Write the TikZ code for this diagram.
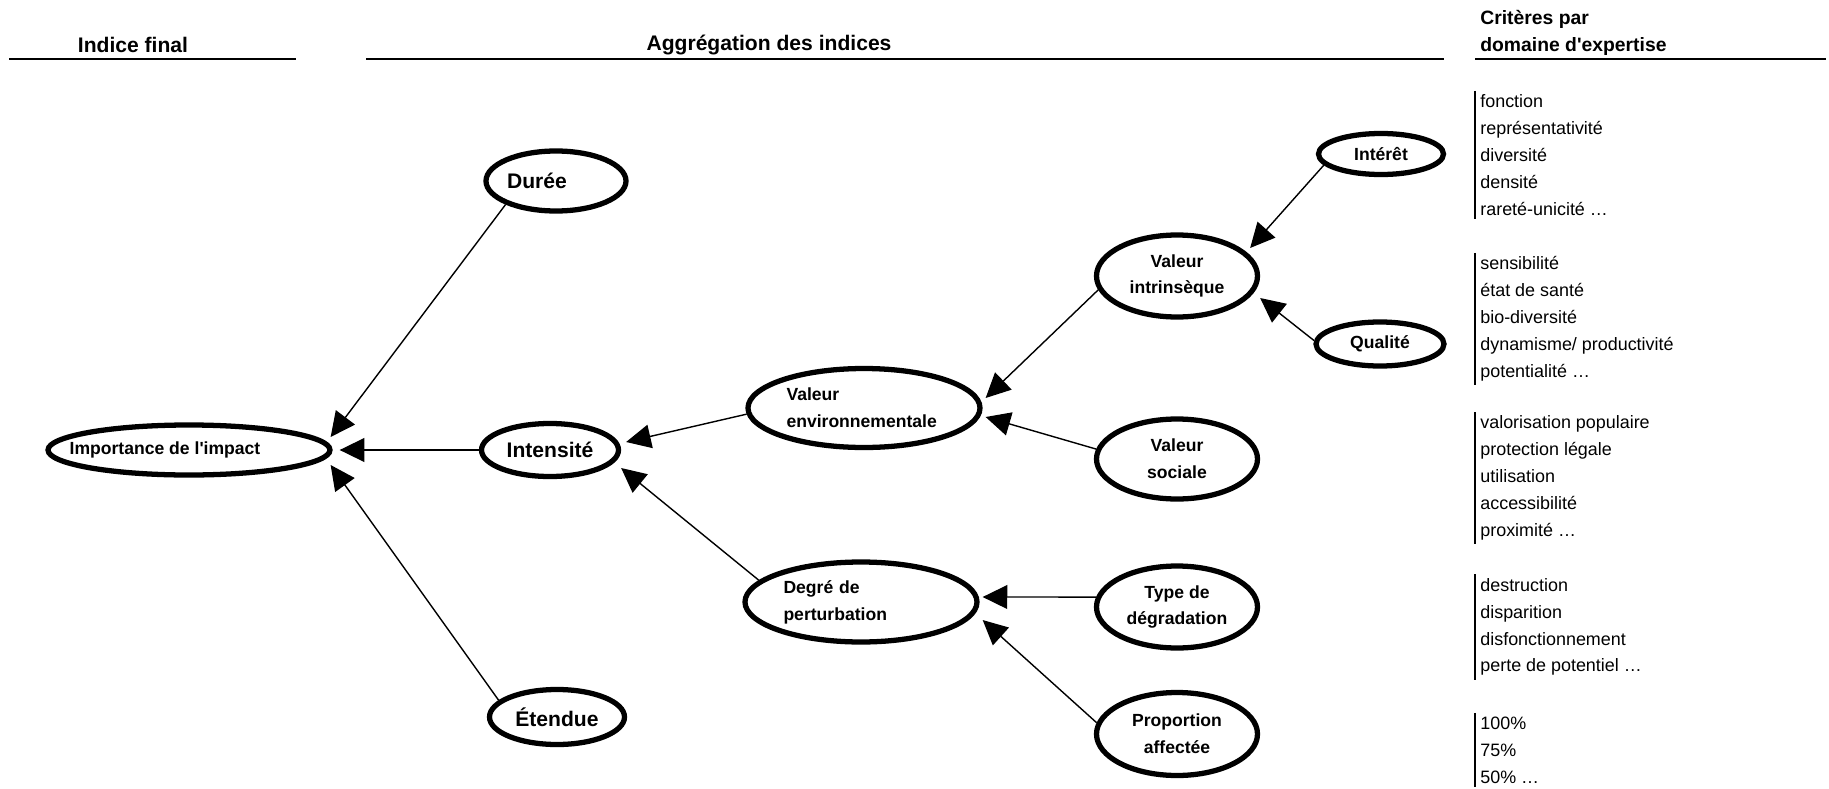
\documentclass[tikz,border=0pt]{standalone}
\usepackage{fontspec}
\setmainfont{Liberation Sans}
\usetikzlibrary{arrows.meta,shapes.geometric}

\begin{document}
\begin{tikzpicture}[x=0.2mm, y=-0.2mm, >={Triangle[length=14pt, width=13.5pt]},
    main/.style = {ellipse, draw, line width=3pt, inner sep=0pt, align=center, font=\fontsize{10}{15.3}\selectfont\bfseries},
    big/.style = {main, font=\fontsize{12}{15.3}\selectfont\bfseries},
    link/.style = {->, line width=0.8pt},
    head/.style = {inner sep=0pt, font=\fontsize{12}{15.3}\selectfont\bfseries},
    rule/.style = {line width=1.4pt},
    crit/.style = {anchor=west, align=left, inner xsep=0.1cm, inner ysep=2pt, font=\fontsize{10.2}{15.3}\selectfont}]
    \useasboundingbox (0,0) rectangle (1829,789);

    % Headers
    \node[head] (h1) at (133,45) {Indice final};
    \node[head] (h2) at (769,45) {Aggrégation des indices};
    \node[head, anchor=west, align=left, font=\fontsize{11}{15.3}\selectfont\bfseries] (h3) at (1480,33) {Critères par\\domaine d\textquotesingle expertise};
    \draw[rule] (9,59) -- (296,59);
    \draw[rule] (366,59) -- (1444,59);
    \draw[rule] (1475,59) -- (1826,59);

    % Nodes
    \node[main, minimum width=5.64cm, minimum height=1cm] (imp) at (189,450) {\hspace*{-0.96cm}Importance de l\textquotesingle impact};
    \node[big, minimum width=2.8cm, minimum height=1.2cm] (dur) at (556,181) {\hspace*{-0.76cm}Durée};
    \node[big, minimum width=2.74cm, minimum height=1.06cm] (int) at (550,450) {Intensité};
    \node[big, minimum width=2.7cm, minimum height=1.1cm] (ete) at (557,717) {Étendue};
    \node[main, minimum width=4.64cm, minimum height=1.58cm, text width=3.1cm, align=left] (venv) at (864,408) {Valeur\\environnementale};
    \node[main, minimum width=4.64cm, minimum height=1.6cm, text width=3.1cm, align=left] (deg) at (861,602) {Degré de\\perturbation};
    \node[main, minimum width=3.22cm, minimum height=1.64cm] (vint) at (1177,276) {Valeur\\intrinsèque};
    \node[main, minimum width=3.22cm, minimum height=1.6cm] (vsoc) at (1177,459) {Valeur\\sociale};
    \node[main, minimum width=3.22cm, minimum height=1.64cm] (typ) at (1177,607) {Type de\\dégradation};
    \node[main, minimum width=3.22cm, minimum height=1.66cm] (prop) at (1177,734) {Proportion\\affectée};
    \node[main, minimum width=2.5cm, minimum height=0.82cm] (inte) at (1381,154) {Intérêt};
    \node[main, minimum width=2.56cm, minimum height=0.88cm] (qual) at (1380,344) {Qualité};

    % Lines
    \draw[link] (dur.205) -- ([shift={(-2,-13)}]imp.east);
    \draw[link] (int.west) -- ([xshift=4]imp.east);
    \draw[link] (ete.164) -- ([shift={(-2,15)}]imp.east);
    \draw[link] (venv.183) -- ([shift={(5,-8)}]int.east);
    \draw[link] (deg.168) -- ([shift={(0,18)}]int.east);
    \draw[link] (vint.190) -- ([shift={(3,-10)}]venv.east);
    \draw[link] (vsoc.173) -- ([shift={(3,9)}]venv.east);
    \draw[link] (inte.191) -- ([shift={(-10,-28)}]vint.east);
    \draw[link] (qual.177) -- ([shift={(0,22)}]vint.east);
    \draw[link] (typ.173) -- ([shift={(3,-5)}]deg.east);
    \draw[link] (prop.172) -- ([shift={(3,18)}]deg.east);

    % Criteria
    \node[crit] (c1) at (1475,155) {fonction\\représentativité\\diversité\\densité\\rareté-unicité …};
    \node[crit] (c2) at (1475,319) {sensibilité\\état de santé\\bio-diversité\\dynamisme/ productivité\\potentialité …};
    \node[crit] (c3) at (1475,478) {valorisation populaire\\protection légale\\utilisation\\accessibilité\\proximité …};
    \node[crit] (c4) at (1475,627) {destruction\\disparition\\disfonctionnement\\perte de potentiel …};
    \node[crit] (c5) at (1475,750) {100\%\\75\%\\50\% …};
    \foreach \c in {c1,c2,c3,c4,c5}
        \draw[rule] (\c.north west) -- (\c.south west);
\end{tikzpicture}
\end{document}
